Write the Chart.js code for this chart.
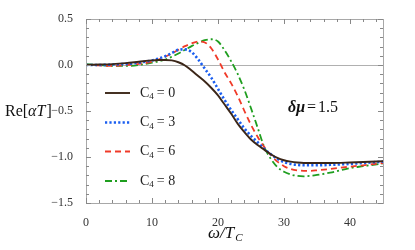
<!DOCTYPE html>
<html>
<head>
<meta charset="utf-8">
<style>
html,body{margin:0;padding:0;background:#fff;}
#wrap{width:415px;height:250px;position:relative;}
</style>
<script src="https://cdn.jsdelivr.net/npm/chart.js@4/dist/chart.umd.min.js"></script>
</head>
<body>
<div id="wrap"><canvas id="c" width="415" height="250"></canvas></div>
<script>
// ---- data ----
const omega = [0,2,4,6,8,10,11,12,13,14,15,16,17,18,19,20,21,22,23,24,25,26,27,28,29,30,31,32,33,34,35,37,40,42,45];
const reC4_0 = [0,0.005,0.01,0.02,0.035,0.05,0.054,0.055,0.05,0.03,-0.005,-0.06,-0.12,-0.18,-0.25,-0.33,-0.43,-0.53,-0.64,-0.73,-0.81,-0.87,-0.92,-0.97,-1.01,-1.035,-1.05,-1.06,-1.065,-1.065,-1.065,-1.065,-1.06,-1.055,-1.045];
const reC4_3 = [0,0,0.005,0.012,0.025,0.05,0.07,0.095,0.13,0.165,0.17,0.14,0.06,-0.04,-0.14,-0.26,-0.38,-0.49,-0.59,-0.69,-0.77,-0.84,-0.91,-0.97,-1.02,-1.055,-1.075,-1.085,-1.09,-1.09,-1.09,-1.085,-1.075,-1.065,-1.05];
const reC4_6 = [0,-0.005,-0.01,0,0.012,0.035,0.06,0.09,0.125,0.165,0.205,0.235,0.255,0.245,0.18,0.06,-0.08,-0.2,-0.34,-0.5,-0.65,-0.78,-0.89,-0.98,-1.05,-1.1,-1.13,-1.145,-1.15,-1.15,-1.145,-1.13,-1.105,-1.09,-1.065];
const reC4_8 = [0.01,0,-0.01,-0.01,0,0.025,0.04,0.06,0.09,0.125,0.165,0.205,0.24,0.27,0.28,0.255,0.16,0.04,-0.1,-0.27,-0.47,-0.68,-0.89,-1.02,-1.11,-1.16,-1.19,-1.205,-1.21,-1.205,-1.195,-1.17,-1.12,-1.1,-1.07];
const seriesLabels = ['0','3','6','8'];
const xTicks = [0,10,20,30,40];
const yTicks = [-1.5,-1.0,-0.5,0.0,0.5];

const pts = ys => omega.map((x,i)=>({x:x,y:ys[i]}));
const SERIF = '"Liberation Serif","DejaVu Serif",serif';

const styles = [
  {c:'#3b2618', w:1.9, d:[]},
  {c:'#1a5ef0', w:2.6, d:[2.2,2.2]},
  {c:'#f03a28', w:1.8, d:[6,4]},
  {c:'#1f9e1f', w:1.8, d:[7,3,2,3]}
];
const allY = [reC4_0, reC4_3, reC4_6, reC4_8];

const datasets = allY.map((ys,i)=>({
  label:'C4 = '+seriesLabels[i],
  data:pts(ys),
  borderColor:styles[i].c,
  borderWidth:styles[i].w,
  borderDash:styles[i].d,
  pointRadius:0,
  fill:false,
  cubicInterpolationMode:'monotone'
}));

const fmt = v => {
  const s = Math.abs(v).toFixed(1);
  return v < 0 ? '\u2212'+s : s;
};

const framePlugin = {
  id:'frame',
  beforeDatasetsDraw(chart){
    const {ctx, chartArea:a, scales:{x,y}} = chart;
    ctx.save();
    ctx.strokeStyle = '#b0b0b0';
    ctx.lineWidth = 1;
    const y0 = Math.round(y.getPixelForValue(0))+0.5;
    ctx.beginPath(); ctx.moveTo(a.left,y0); ctx.lineTo(a.right,y0); ctx.stroke();
    ctx.restore();
  },
  afterDraw(chart){
    const {ctx, chartArea:a, scales:{x,y}} = chart;
    ctx.save();
    // frame
    ctx.strokeStyle = '#a8a8a8';
    ctx.lineWidth = 1;
    ctx.strokeRect(Math.round(a.left)+0.5, Math.round(a.top)+0.5, Math.round(a.right-a.left), Math.round(a.bottom-a.top));
    // ticks
    ctx.strokeStyle = '#888';
    for(let v=0; v<=45; v+=2){
      const px = Math.round(x.getPixelForValue(v))+0.5;
      const L = (v%10===0)?5:3;
      ctx.beginPath();
      ctx.moveTo(px,a.bottom); ctx.lineTo(px,a.bottom-L);
      ctx.moveTo(px,a.top); ctx.lineTo(px,a.top+L);
      ctx.stroke();
    }
    for(let k=-15; k<=5; k++){
      const v = k/10;
      const py = Math.round(y.getPixelForValue(v))+0.5;
      const L = (k%5===0)?5:3;
      ctx.beginPath();
      ctx.moveTo(a.left,py); ctx.lineTo(a.left+L,py);
      ctx.moveTo(a.right,py); ctx.lineTo(a.right-L,py);
      ctx.stroke();
    }
    // legend
    const legY = [93,122.5,151.5,181];
    datasets.forEach((ds,i)=>{
      ctx.save();
      ctx.strokeStyle = ds.borderColor;
      ctx.lineWidth = ds.borderWidth;
      ctx.setLineDash(ds.borderDash);
      ctx.beginPath(); ctx.moveTo(105,legY[i]); ctx.lineTo(130,legY[i]); ctx.stroke();
      ctx.restore();
      ctx.fillStyle = '#222';
      ctx.textBaseline = 'middle';
      ctx.textAlign = 'left';
      ctx.font = '14px '+SERIF;
      ctx.fillText('C', 140, legY[i]);
      const cw = ctx.measureText('C').width;
      ctx.font = '9px '+SERIF;
      ctx.fillText('4', 140+cw, legY[i]+4);
      ctx.font = '14px '+SERIF;
      ctx.fillText(' = '+seriesLabels[i], 140+cw+4, legY[i]);
    });
    // annotation
    ctx.fillStyle = '#111';
    ctx.textBaseline = 'middle';
    ctx.font = 'italic bold 16px '+SERIF;
    ctx.fillText('δμ', 288, 108);
    let w = ctx.measureText('δμ').width;
    ctx.font = '16px '+SERIF;
    ctx.fillText('=', 288+w+2, 108);
    let w2 = ctx.measureText('=').width;
    ctx.fillText('1.5', 288+w+2+w2+2, 108);
    // y title
    ctx.font = '16px '+SERIF;
    ctx.fillStyle = '#111';
    ctx.textAlign = 'left';
    ctx.fillText('Re[', 5, 112);
    let yx = 5 + ctx.measureText('Re[').width;
    ctx.font = 'italic 16px '+SERIF;
    ctx.fillText('αT', yx, 112);
    yx += ctx.measureText('αT').width + 1;
    ctx.font = '16px '+SERIF;
    ctx.fillText(']', yx, 112);
    // x title
    const cx = 208;
    ctx.font = 'italic 17px '+SERIF;
    const t1 = 'ω/T';
    const w1 = ctx.measureText(t1).width;
    ctx.fillText(t1, cx, 234);
    ctx.font = 'italic 11px '+SERIF;
    ctx.fillText('C', cx+w1+1, 238);
    ctx.restore();
  }
};

new Chart(document.getElementById('c'), {
  type:'line',
  data:{datasets},
  options:{
    responsive:false,
    animation:false,
    devicePixelRatio:1,
    layout:{padding:{left:0,right:32,top:19,bottom:0}},
    plugins:{legend:{display:false}, tooltip:{enabled:false}},
    scales:{
      x:{
        type:'linear', min:0, max:45,
        afterBuildTicks(s){ s.ticks = xTicks.map(v=>({value:v})); },
        afterFit(s){ s.height = 47; },
        grid:{display:false}, border:{display:false},
        ticks:{font:{family:SERIF,size:12}, color:'#333', padding:5, maxRotation:0, callback:v=>String(v)}
      },
      y:{
        type:'linear', min:-1.5, max:0.5,
        afterBuildTicks(s){ s.ticks = yTicks.map(v=>({value:v})); },
        afterFit(s){ s.width = 86; },
        grid:{display:false}, border:{display:false},
        ticks:{font:{family:SERIF,size:12}, color:'#333', padding:5, callback:v=>fmt(v)}
      }
    }
  },
  plugins:[framePlugin]
});
</script>
</body>
</html>
